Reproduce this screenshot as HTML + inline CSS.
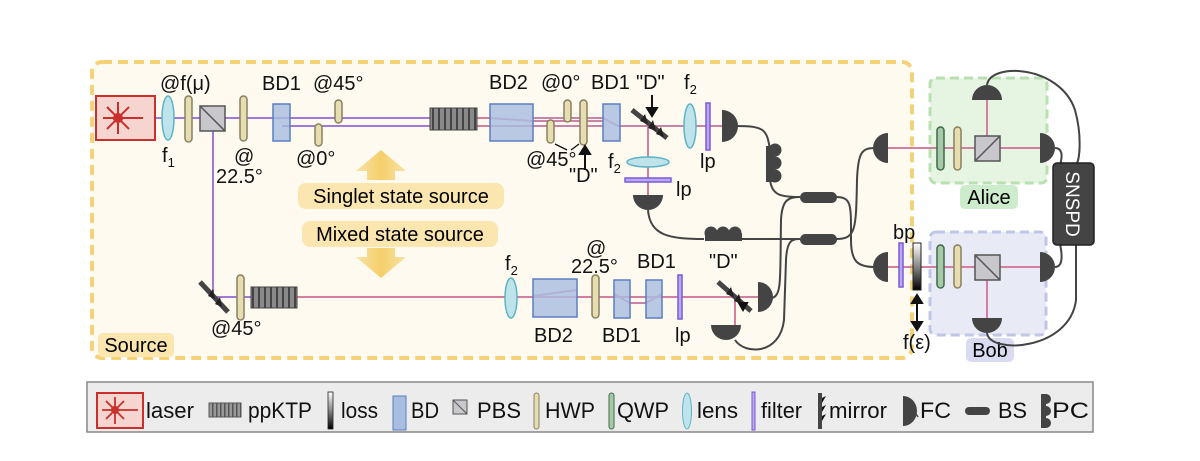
<!DOCTYPE html>
<html><head><meta charset="utf-8"><style>
body{margin:0;background:#fff;}
svg{display:block;font-family:"Liberation Sans",sans-serif;}
</style></head><body>
<svg width="1200" height="461" viewBox="0 0 1200 461" xmlns="http://www.w3.org/2000/svg">
<defs>
<pattern id="kt" width="6" height="20" patternUnits="userSpaceOnUse"><rect width="6" height="20" fill="#8a8a8a"/><rect x="0" width="2" height="20" fill="#444"/></pattern>
<pattern id="kt2" width="4" height="20" patternUnits="userSpaceOnUse"><rect width="4" height="20" fill="#999"/><rect x="0" width="1.5" height="20" fill="#555"/></pattern>
<linearGradient id="ag" x1="0" y1="0" x2="1" y2="0"><stop offset="0" stop-color="#f8e2a8"/><stop offset="0.5" stop-color="#f5cf6a"/><stop offset="1" stop-color="#f8e2a8"/></linearGradient>
<linearGradient id="ls" x1="0" y1="0" x2="0" y2="1"><stop offset="0" stop-color="#fff"/><stop offset="0.5" stop-color="#888"/><stop offset="1" stop-color="#000"/></linearGradient>
</defs>
<rect x="92" y="62" width="820" height="296" rx="10" fill="#fefaf0" stroke="#f5d27a" stroke-width="4" stroke-dasharray="10 6"/>
<rect x="930" y="78" width="117" height="105" rx="6" fill="#e6f4e2" stroke="#b9e0b0" stroke-width="3" stroke-dasharray="9 5"/>
<rect x="930" y="232" width="116" height="103" rx="6" fill="#e8eaf6" stroke="#c0c6e6" stroke-width="3" stroke-dasharray="9 5"/>
<rect x="960" y="185" width="58" height="24" rx="5" fill="#cdeccc"/>
<text x="989" y="204" font-size="20" text-anchor="middle">Alice</text>
<rect x="966" y="338" width="48" height="24" rx="5" fill="#d9dcf0"/>
<text x="990" y="357" font-size="20" text-anchor="middle">Bob</text>
<rect x="98" y="333" width="76" height="24" rx="5" fill="#fbe6b0"/>
<text x="136" y="352" font-size="20" text-anchor="middle">Source</text>
<polygon points="381,150 406,171 395,171 395,180 367,180 367,171 356,171" fill="url(#ag)"/>
<polygon points="381,278 406,257 395,257 395,248 367,248 367,257 356,257" fill="url(#ag)"/>
<rect x="298" y="183" width="206" height="26" rx="8" fill="#fbe6b0"/>
<text x="401" y="203" font-size="20" text-anchor="middle">Singlet state source</text>
<rect x="302" y="221" width="196" height="26" rx="8" fill="#fbe6b0"/>
<text x="400" y="241" font-size="20" text-anchor="middle">Mixed state source</text>
<g fill="none" stroke-width="2">
<line x1="155" y1="118" x2="282" y2="118" stroke="#a07ad8"/>
<line x1="282" y1="118" x2="490" y2="118" stroke="#a07ad8"/>
<line x1="282" y1="126" x2="490" y2="126" stroke="#a07ad8"/>
<line x1="213" y1="118" x2="213" y2="297" stroke="#a07ad8"/>
<line x1="213" y1="297" x2="251" y2="297" stroke="#a07ad8"/>
<line x1="297" y1="297" x2="760" y2="297" stroke="#d47ea0"/>
<line x1="477" y1="118" x2="490" y2="118" stroke="#d47ea0"/>
<line x1="477" y1="126" x2="490" y2="126" stroke="#d47ea0"/>
<path d="M490 118 L533 121 M490 126 L533 126 M533 118 L603 118 M533 121 L603 121 M533 126 L603 126 M603 118 L618 126 M618 126 L722 126" stroke="#c884a8"/>
<line x1="648" y1="126" x2="648" y2="195" stroke="#d47ea0"/>
<path d="M533 296 L577 290 M614 294 L630 303 L646 303 L662 294" stroke="#c884a8"/>
<line x1="735" y1="297" x2="735" y2="325" stroke="#d47ea0"/>
<line x1="888" y1="148" x2="1040" y2="148" stroke="#d47ea0"/>
<line x1="987" y1="100" x2="987" y2="148" stroke="#d47ea0"/>
<line x1="888" y1="267" x2="1040" y2="267" stroke="#d47ea0"/>
<line x1="987" y1="267" x2="987" y2="318" stroke="#d47ea0"/>
</g>
<rect x="96" y="96" width="59" height="44" fill="#f6d4d0" stroke="#c9302c" stroke-width="2"/>
<g stroke="#c9302c" stroke-width="2"><line x1="103" y1="118" x2="143" y2="118"/><line x1="118" y1="102" x2="118" y2="134"/><line x1="107" y1="107" x2="129" y2="129"/><line x1="107" y1="129" x2="129" y2="107"/></g>
<circle cx="118" cy="118" r="5" fill="#c9302c"/>
<g fill="#bfe3ea" stroke="#5eb4c4" stroke-width="1.5">
<ellipse cx="168" cy="118" rx="6" ry="22"/>
<ellipse cx="690" cy="126" rx="6" ry="22"/>
<ellipse cx="648" cy="162" rx="21" ry="5"/>
<ellipse cx="511" cy="298" rx="6" ry="20"/>
</g>
<g fill="#e6ddb0" stroke="#8a8060" stroke-width="1.5">
<rect x="185" y="96" width="7" height="46" rx="3.5"/>
<rect x="240" y="96" width="7" height="45" rx="3.5"/>
<rect x="315" y="124" width="7" height="22" rx="3.5"/>
<rect x="335" y="100" width="7" height="23" rx="3.5"/>
<rect x="547" y="120" width="7" height="23" rx="3.5"/>
<rect x="564" y="100" width="7" height="22" rx="3.5"/>
<rect x="580" y="100" width="7" height="45" rx="3.5"/>
<rect x="237" y="275" width="7" height="45" rx="3.5"/>
<rect x="592" y="275" width="7" height="43" rx="3.5"/>
<rect x="954" y="127" width="7" height="43" rx="3.5"/>
<rect x="954" y="245" width="7" height="43" rx="3.5"/>
</g>
<g fill="#a8c9a8" stroke="#3d6b4a" stroke-width="1.5">
<rect x="937" y="127" width="7" height="43" rx="3.5"/>
<rect x="937" y="245" width="7" height="43" rx="3.5"/>
</g>
<g fill="#c8c8cc" stroke="#555" stroke-width="1.5">
<rect x="200" y="106" width="25" height="25"/><line x1="200" y1="106" x2="225" y2="131"/>
<rect x="975" y="136" width="25" height="25"/><line x1="975" y1="161" x2="1000" y2="136"/>
<rect x="975" y="255" width="25" height="25"/><line x1="975" y1="255" x2="1000" y2="280"/>
</g>
<g fill="#a9bde0" fill-opacity="0.8" stroke="#5a7fc0" stroke-width="1.5">
<rect x="273" y="104" width="17" height="37"/>
<rect x="490" y="104" width="43" height="37"/>
<rect x="603" y="104" width="17" height="37"/>
<rect x="533" y="279" width="44" height="38"/>
<rect x="614" y="280" width="16" height="38"/>
<rect x="646" y="280" width="16" height="38"/>
</g>
<rect x="430" y="108" width="47" height="22" fill="url(#kt)" stroke="#444"/>
<rect x="251" y="287" width="46" height="21" fill="url(#kt)" stroke="#444"/>
<g fill="#b9a8ee" stroke="#7a5ad8" stroke-width="1.5">
<rect x="706" y="103" width="4" height="47"/>
<rect x="625" y="178" width="46" height="4"/>
<rect x="678" y="275" width="4" height="44"/>
<rect x="899" y="243" width="4" height="44"/>
</g>
<rect x="913" y="243" width="8" height="47" fill="url(#ls)" stroke="#222"/>
<g stroke="#444" stroke-width="5">
<line x1="632" y1="110" x2="667" y2="138"/>
<line x1="200" y1="282" x2="228" y2="312"/>
<line x1="718" y1="282" x2="751" y2="311"/>
</g>
<g fill="#222">
<polygon points="640,121 645,114 648,124"/><polygon points="648,128 653,120 656,131"/><polygon points="656,134 661,127 664,137"/>
<polygon points="208,296 213,289 215,299"/><polygon points="215,304 220,297 222,307"/>
<polygon points="726,294 731,287 734,297"/><polygon points="734,301 739,294 742,304"/>
</g>
<g stroke="#111" stroke-width="2" fill="#111">
<line x1="652" y1="95" x2="652" y2="110"/><polygon points="647,108 657,108 652,116"/>
<line x1="585" y1="170" x2="585" y2="152"/><polygon points="580,154 590,154 585,146"/>
<polygon points="739,303 747,303 743,310"/>
<line x1="917" y1="300" x2="917" y2="325"/><polygon points="912,303 922,303 917,295"/><polygon points="912,322 922,322 917,330"/>
</g>
<g stroke="#111" stroke-width="1.3" fill="none"><path d="M567 150 L555 144 M571 150 L579 144"/></g>
<g fill="#444">
<path d="M722 110 A16 16 0 0 1 722 142 Z"/>
<path d="M633 195 A15 15 0 0 0 663 195 Z"/>
<path d="M758 282 A15 15 0 0 1 758 312 Z"/>
<path d="M711 325 A15 15 0 0 0 741 325 Z"/>
<path d="M888 133 A15 15 0 0 0 888 163 Z"/>
<path d="M888 252 A15 15 0 0 0 888 282 Z"/>
<path d="M972 100 A15 15 0 0 1 1002 100 Z"/>
<path d="M1040 133 A15 15 0 0 1 1040 163 Z"/>
<path d="M1040 252 A15 15 0 0 1 1040 282 Z"/>
<path d="M972 318 A15 15 0 0 0 1002 318 Z"/>
</g>
<g fill="none" stroke="#444" stroke-width="2">
<path d="M737 126 C765 126 767 130 770 150"/>
<path d="M770 180 C772 195 780 197 800 197"/>
<path d="M648 210 C650 236 670 239 704 239"/>
<path d="M742 239 L800 239"/>
<path d="M772 298 C782 295 780 280 781 220 C782 200 788 197 800 197"/>
<path d="M735 340 C745 355 780 355 784 320 L786 260 C787 240 792 239 800 239"/>
<path d="M836 197 C852 197 851 205 851 240 C851 262 858 267 875 267"/>
<path d="M836 239 C856 239 856 230 857 180 C858 152 862 148 875 148"/>
<path d="M987 85 C990 62 1060 65 1075 110 C1082 135 1080 160 1076 165"/>
<path d="M1055 148 C1062 148 1063 155 1060 165"/>
<path d="M1055 267 C1062 267 1063 258 1060 244"/>
<path d="M987 333 C990 355 1070 350 1076 300 L1076 244"/>
</g>
<g fill="#444">
<rect x="800" y="192" width="37" height="11" rx="5.5"/>
<rect x="800" y="234" width="37" height="11" rx="5.5"/>
<circle cx="775" cy="150" r="6.5"/><circle cx="775" cy="163" r="6.5"/><circle cx="775" cy="176" r="6.5"/>
<rect x="766" y="146" width="9" height="36"/>
<circle cx="711" cy="233" r="6.5"/><circle cx="723" cy="233" r="6.5"/><circle cx="735" cy="233" r="6.5"/>
<rect x="705" y="233" width="37" height="8"/>
<rect x="1053" y="163" width="41" height="82" rx="4" stroke="#222" stroke-width="1.5"/>
</g>
<text transform="translate(1066,204) rotate(90)" font-size="19" fill="#fff" text-anchor="middle">SNSPD</text>
<g font-size="20" fill="#111">
<text x="160" y="90">@f(μ)</text>
<text x="162" y="162">f<tspan font-size="13" dy="5">1</tspan></text>
<text x="234" y="163">@</text>
<text x="216" y="183">22.5°</text>
<text x="262" y="90">BD1</text>
<text x="313" y="90">@45°</text>
<text x="296" y="165">@0°</text>
<text x="489" y="89">BD2</text>
<text x="541" y="89">@0°</text>
<text x="591" y="89">BD1</text>
<text x="636" y="89">"D"</text>
<text x="684" y="89">f<tspan font-size="13" dy="5">2</tspan></text>
<text x="526" y="166">@45°</text>
<text x="569" y="182">"D"</text>
<text x="608" y="168">f<tspan font-size="13" dy="5">2</tspan></text>
<text x="676" y="196">lp</text>
<text x="700" y="168">lp</text>
<text x="505" y="270">f<tspan font-size="13" dy="5">2</tspan></text>
<text x="586" y="255">@</text>
<text x="571" y="273">22.5°</text>
<text x="637" y="268">BD1</text>
<text x="709" y="268">"D"</text>
<text x="534" y="342">BD2</text>
<text x="602" y="342">BD1</text>
<text x="675" y="342">lp</text>
<text x="211" y="335">@45°</text>
<text x="893" y="239">bp</text>
<text x="903" y="349">f(ε)</text>
</g>
<rect x="87" y="382" width="1006" height="50" fill="#ececec" stroke="#888" stroke-width="1.5"/>
<g font-size="22" fill="#111">
<rect x="97" y="393" width="46" height="35" fill="#f6d4d0" stroke="#c9302c" stroke-width="2"/>
<g stroke="#c9302c" stroke-width="1.8"><line x1="102" y1="410" x2="138" y2="410"/><line x1="115" y1="397" x2="115" y2="424"/><line x1="106" y1="401" x2="124" y2="419"/><line x1="106" y1="419" x2="124" y2="401"/></g>
<circle cx="115" cy="410" r="4" fill="#c9302c"/>
<text x="146" y="418" textLength="48" lengthAdjust="spacingAndGlyphs">laser</text>
<rect x="209" y="403" width="32" height="14" fill="url(#kt2)" stroke="#555"/>
<text x="248" y="418" textLength="64" lengthAdjust="spacingAndGlyphs">ppKTP</text>
<rect x="328" y="392" width="5" height="37" fill="url(#ls)" stroke="#222" stroke-width="0.8"/>
<text x="341" y="418" textLength="37" lengthAdjust="spacingAndGlyphs">loss</text>
<rect x="393" y="396" width="13" height="34" fill="#a9bde0" stroke="#5a7fc0"/>
<text x="411" y="418" textLength="28" lengthAdjust="spacingAndGlyphs">BD</text>
<rect x="453" y="400" width="14" height="14" fill="#c8c8cc" stroke="#555"/><line x1="453" y1="400" x2="467" y2="414" stroke="#555"/>
<text x="477" y="418" textLength="44" lengthAdjust="spacingAndGlyphs">PBS</text>
<rect x="534" y="393" width="5" height="36" rx="2.5" fill="#e6ddb0" stroke="#8a8060"/>
<text x="545" y="418" textLength="50" lengthAdjust="spacingAndGlyphs">HWP</text>
<rect x="609" y="393" width="5" height="36" rx="2.5" fill="#a8c9a8" stroke="#3d6b4a"/>
<text x="617" y="418" textLength="52" lengthAdjust="spacingAndGlyphs">QWP</text>
<ellipse cx="687" cy="411" rx="4.5" ry="18" fill="#bfe3ea" stroke="#5eb4c4"/>
<text x="697" y="418" textLength="41" lengthAdjust="spacingAndGlyphs">lens</text>
<rect x="752" y="392" width="3" height="38" fill="#b9a8ee" stroke="#7a5ad8"/>
<text x="761" y="418" textLength="41" lengthAdjust="spacingAndGlyphs">filter</text>
<rect x="818" y="393" width="4" height="36" fill="#444"/>
<g fill="#111"><polygon points="822,398 826,396 822,403"/><polygon points="822,407 826,405 822,412"/><polygon points="822,416 826,414 822,421"/></g>
<text x="829" y="418" textLength="58" lengthAdjust="spacingAndGlyphs">mirror</text>
<path d="M903 396 A14 15 0 0 1 903 426 Z" fill="#444"/>
<path d="M914 411 L918 417" stroke="#444" stroke-width="1.5"/>
<text x="920" y="418" textLength="31" lengthAdjust="spacingAndGlyphs">FC</text>
<rect x="965" y="407" width="25" height="8" rx="4" fill="#444"/>
<text x="998" y="418" textLength="29" lengthAdjust="spacingAndGlyphs">BS</text>
<g fill="#444"><rect x="1041" y="394" width="5" height="34"/><circle cx="1046" cy="399" r="5"/><circle cx="1046" cy="411" r="5"/><circle cx="1046" cy="423" r="5"/></g>
<text x="1052" y="418" textLength="37" lengthAdjust="spacingAndGlyphs">PC</text>
</g>
</svg>
</body></html>
